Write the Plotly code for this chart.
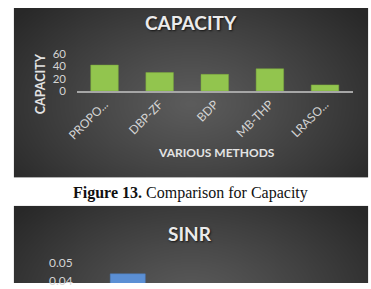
import base64, struct, zlib
import numpy as np
import plotly.graph_objects as go

# ---------------- data ----------------
methods = ["PROPO...", "DBP-ZF", "BDP", "MB-THP", "LRASO..."]
capacity = [42, 30, 27, 36, 10]
capacity_ticks = [0, 20, 40, 60]

sinr_methods = ["PROPO..."]
sinr_values = [0.044]
sinr_ticks = [0.04, 0.05]

W, H = 371, 289


def png_uri(arr):
    h, w, _ = arr.shape
    raw = b"".join(b"\x00" + arr[i].tobytes() for i in range(h))

    def chunk(t, d):
        return struct.pack(">I", len(d)) + t + d + struct.pack(">I", zlib.crc32(t + d) & 0xFFFFFFFF)

    png = (b"\x89PNG\r\n\x1a\n"
           + chunk(b"IHDR", struct.pack(">IIBBBBB", w, h, 8, 2, 0, 0, 0))
           + chunk(b"IDAT", zlib.compress(raw, 9))
           + chunk(b"IEND", b""))
    return "data:image/png;base64," + base64.b64encode(png).decode()


def radial(w, h_full, h_crop, cx, cy, rx, ry, c0=92, c1=40):
    yy, xx = np.mgrid[0:h_full, 0:w].astype(float)
    d = np.sqrt(((xx - cx) / rx) ** 2 + ((yy - cy) / ry) ** 2)
    d = np.clip(d, 0, 1) ** 1.1
    v = c0 + (c1 - c0) * d
    img = np.repeat(v[..., None], 3, axis=2).astype(np.uint8)
    return img[:h_crop]


bx0, bx1 = 3, 368
box1_top, box1_bot = 0, 178
box2_top = 208

img1 = radial(bx1 - bx0, 178, 178, 182, 100, 230, 150)
img2 = radial(bx1 - bx0, 178, H - box2_top, 182, 100, 230, 150)


def px(x):
    return x / W


def py(y):
    return 1 - y / H


fig = go.Figure()

fig.add_trace(go.Bar(
    x=methods, y=capacity, xaxis="x", yaxis="y",
    marker=dict(color="#92c54e", line=dict(color="#7aa83c", width=0.5)),
    hoverinfo="x+y",
))

fig.add_trace(go.Bar(
    x=sinr_methods, y=sinr_values, xaxis="x2", yaxis="y2",
    marker=dict(color="#5b8fd4", line=dict(color="#4a7bbd", width=0.5)),
    width=0.39,
))

FONT = "Lato, Open Sans, sans-serif"
tick_font = dict(family=FONT, size=11.5, color="#d4d4d4")

fig.update_layout(
    width=W, height=H,
    margin=dict(l=0, r=0, t=0, b=0),
    paper_bgcolor="white",
    plot_bgcolor="rgba(0,0,0,0)",
    showlegend=False,
    bargap=0.5,
    xaxis=dict(
        domain=[px(68), px(352)], anchor="y",
        tickangle=-45, tickfont=dict(family=FONT, size=12, color="#d4d4d4"),
        showgrid=False, zeroline=False,
        showline=True, linecolor="#a6a6a6", linewidth=1.5,
        ticks="", fixedrange=True,
    ),
    yaxis=dict(
        domain=[py(87.3), py(48.3)], anchor="x",
        range=[0, 60], tickvals=capacity_ticks,
        tickfont=tick_font, showgrid=False, zeroline=False, showline=False,
        ticks="", ticklabelstandoff=10, fixedrange=True,
    ),
    xaxis2=dict(
        domain=[px(74), px(352)], anchor="y2",
        range=[-0.5, 2.5], showticklabels=False,
        showgrid=False, zeroline=False, showline=False, ticks="",
    ),
    yaxis2=dict(
        domain=[0, py(268)], anchor="x2",
        range=[0.03895, 0.05], tickvals=sinr_ticks, tickformat=".2f",
        tickfont=dict(family=FONT, size=12, color="#d4d4d4"),
        showgrid=False, zeroline=False, showline=False,
        ticks="", ticklabelstandoff=9,
    ),
    images=[
        dict(source=png_uri(img1), xref="paper", yref="paper",
             x=px(bx0), y=py(box1_top), sizex=(bx1 - bx0) / W, sizey=(box1_bot - box1_top) / H,
             xanchor="left", yanchor="top", sizing="stretch", layer="below"),
        dict(source=png_uri(img2), xref="paper", yref="paper",
             x=px(bx0), y=py(box2_top), sizex=(bx1 - bx0) / W, sizey=(H - box2_top) / H,
             xanchor="left", yanchor="top", sizing="stretch", layer="below"),
    ],
)

shadow = "1px 1px 2px rgba(0,0,0,0.7)"
ann = [
    dict(text="<b>CAPACITY</b>", x=px(186), y=py(15),
         font=dict(family=FONT, size=19, color="#ebebeb", shadow=shadow)),
    dict(text="<b>CAPACITY</b>", x=px(30), y=py(80), textangle=-90,
         font=dict(family=FONT, size=12.5, color="#e3e3e3")),
    dict(text="<b>VARIOUS METHODS</b>", x=px(212), y=py(152),
         font=dict(family=FONT, size=12, color="#e3e3e3")),
    dict(text="<b>Figure 13.</b> Comparison for Capacity", x=px(185), y=py(194),
         font=dict(family="Liberation Serif, Times New Roman, serif", size=16, color="#111111")),
    dict(text="<b>SINR</b>", x=px(184), y=py(237),
         font=dict(family=FONT, size=19, color="#ebebeb", shadow=shadow)),
]
for a in ann:
    a.update(xref="paper", yref="paper", showarrow=False, xanchor="center", yanchor="middle")
fig.update_layout(annotations=ann)

fig.write_html("out.html", config={"displayModeBar": False})
